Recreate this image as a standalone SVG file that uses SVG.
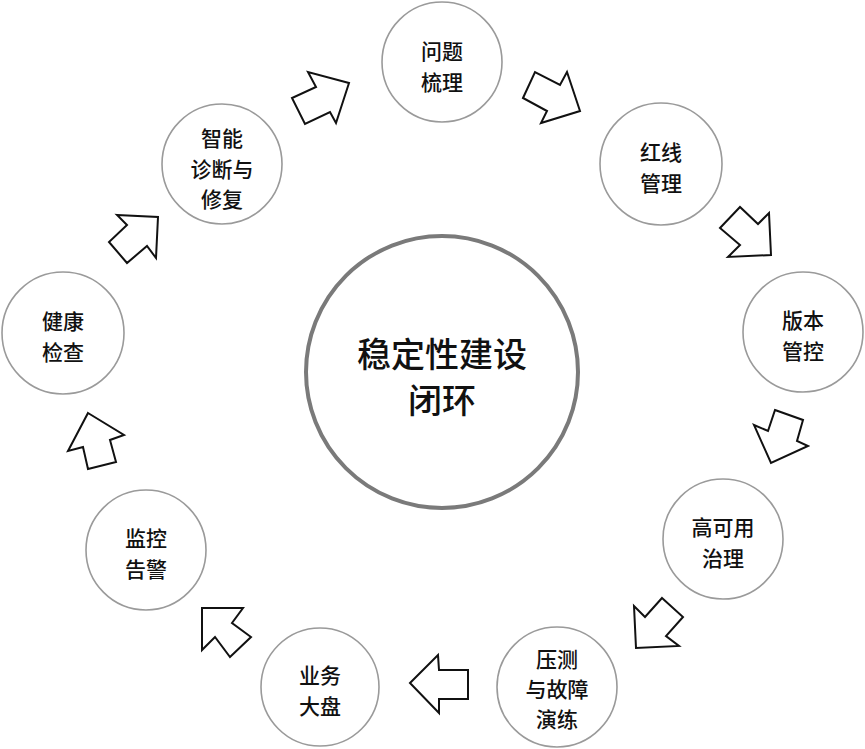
<svg xmlns="http://www.w3.org/2000/svg" width="865" height="749" viewBox="0 0 865 749">
<style>
.n{fill:#fff;stroke:#9a9a9a;stroke-width:1.6}
.c{fill:#fff;stroke:#7a7a7a;stroke-width:4}
.t{font-family:"Noto Sans CJK SC",sans-serif;font-size:21px;font-weight:500;fill:#111;text-anchor:middle;dominant-baseline:central}
.tc{font-family:"Noto Sans CJK SC",sans-serif;font-size:34px;font-weight:500;fill:#111;text-anchor:middle;dominant-baseline:central}
.a{fill:#fff;stroke:#111;stroke-width:2;stroke-linejoin:miter}
</style>
<rect width="865" height="749" fill="#fff"/>
<g id="connectors">
<polygon class="a" points="308,72 316,87 292,98 305,124 330,112 336,123 349,83"/>
<polygon class="a" points="523,98 535,72 560,85 567,72 580,111 541,123 547,111"/>
<polygon class="a" points="720,228 740,207 758,224 769,213 771,255 728,257 740,245"/>
<polygon class="a" points="775,410 803,420 797,441 808,446 771,463 754,425 768,431"/>
<polygon class="a" points="662,598 683,617 666,636 679,646 636,648 634,606 645,617"/>
<polygon class="a" points="410,683 438,655 439,670 468,670 468,699 439,699 439,713"/>
<polygon class="a" points="202,608 243,608 232,623 251,637 230,657 215,637 202,650"/>
<polygon class="a" points="88,413 124,435 110,440 116,462 88,469 83,447 68,451"/>
<polygon class="a" points="117,215 158,217 156,258 147,246 127,263 109,242 127,225"/>
</g>
<g id="center">
<circle class="c" cx="442" cy="372" r="136"/>
<text class="tc" x="442" y="352">稳定性建设</text>
<text class="tc" x="442" y="398">闭环</text>
</g>
<g id="n1">
<circle class="n" cx="442" cy="62" r="60"/>
<text class="t" x="442" y="50">问题</text>
<text class="t" x="442" y="81">梳理</text>
</g>
<g id="n2">
<circle class="n" cx="661" cy="164" r="61"/>
<text class="t" x="661" y="151">红线</text>
<text class="t" x="661" y="182">管理</text>
</g>
<g id="n3">
<circle class="n" cx="803" cy="332" r="60"/>
<text class="t" x="803" y="319">版本</text>
<text class="t" x="803" y="350">管控</text>
</g>
<g id="n4">
<circle class="n" cx="723" cy="539" r="60"/>
<text class="t" x="723" y="526">高可用</text>
<text class="t" x="723" y="557">治理</text>
</g>
<g id="n5">
<circle class="n" cx="557" cy="687" r="60"/>
<text class="t" x="557" y="658">压测</text>
<text class="t" x="557" y="688">与故障</text>
<text class="t" x="557" y="718">演练</text>
</g>
<g id="n6">
<circle class="n" cx="320" cy="687" r="59"/>
<text class="t" x="320" y="674">业务</text>
<text class="t" x="320" y="705">大盘</text>
</g>
<g id="n7">
<circle class="n" cx="146" cy="550" r="60"/>
<text class="t" x="146" y="537">监控</text>
<text class="t" x="146" y="568">告警</text>
</g>
<g id="n8">
<circle class="n" cx="63" cy="333" r="61"/>
<text class="t" x="63" y="320">健康</text>
<text class="t" x="63" y="351">检查</text>
</g>
<g id="n9">
<circle class="n" cx="222" cy="164" r="60"/>
<text class="t" x="222" y="137">智能</text>
<text class="t" x="222" y="168">诊断与</text>
<text class="t" x="222" y="198">修复</text>
</g>
</svg>
